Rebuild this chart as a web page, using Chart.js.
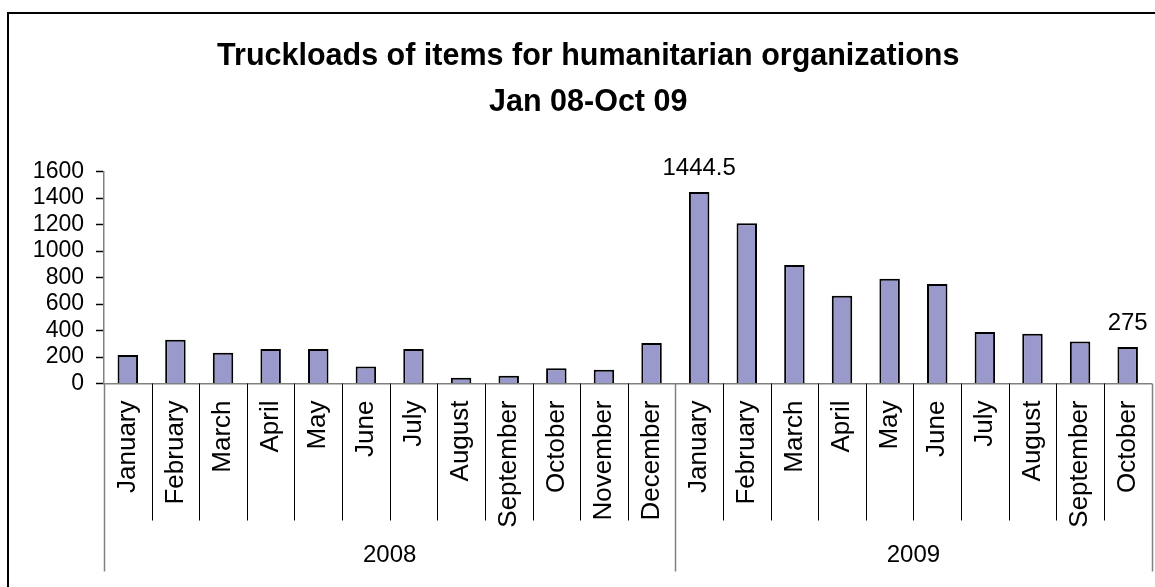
<!DOCTYPE html>
<html>
<head>
<meta charset="utf-8">
<script src="https://cdn.jsdelivr.net/npm/chart.js@4/dist/chart.umd.min.js"></script>
<style>
    body { margin: 0; background: #fff; overflow: hidden; }
    #wrap { position: relative; width: 1155px; height: 587px; }
    #frame { position: absolute; left: 7px; top: 12px; width: 1170px; height: 600px; border: 2px solid #000; pointer-events: none; }
</style>
</head>
<body>
<div id="wrap">
    <canvas id="chartJS"></canvas>
    <div id="frame"></div>
</div>
<script>
// chart data
const months = [
    "January", "February", "March", "April", "May", "June", "July", "August", "September", "October", "November", "December",
    "January", "February", "March", "April", "May", "June", "July", "August", "September", "October"
];
const years = ["2008", "2009"];
const monthsPerYear = [12, 10];
const truckloads = [215, 330, 233, 260, 260, 128, 260, 43, 58, 116, 103, 305,
                    1444.5, 1210, 895, 663, 791, 751, 388, 375, 317, 275];
const labelledBars = [12, 21];
const yTicks = [0, 200, 400, 600, 800, 1000, 1200, 1400, 1600];
const titleLines = ["Truckloads of items for humanitarian organizations", "Jan 08-Oct 09"];

const FONT = "'Liberation Sans', Arial, sans-serif";

// draws the two-level category axis (dividers + years) and the value labels
const extrasPlugin = {
    id: 'extras',
    afterDraw: (chart) => {
        const ctx = chart.ctx;
        const xs = chart.scales.x;
        const y0 = chart.chartArea.bottom;

        // boundaries between years
        let yearEdges = [0];
        monthsPerYear.forEach(n => yearEdges.push(yearEdges[yearEdges.length - 1] + n));

        ctx.save();
        ctx.lineWidth = 1;

        // month dividers
        ctx.strokeStyle = '#000';
        for (let i = 1; i < months.length; i++) {
            if (yearEdges.includes(i)) continue;
            const px = Math.round(xs.getPixelForValue(i - 0.5)) + 0.5;
            ctx.beginPath();
            ctx.moveTo(px, y0);
            ctx.lineTo(px, y0 + 137);
            ctx.stroke();
        }

        // year dividers
        ctx.strokeStyle = '#808080';
        ctx.lineWidth = 1.5;
        yearEdges.forEach(i => {
            const px = Math.round(xs.getPixelForValue(i - 0.5)) + 0.5;
            ctx.beginPath();
            ctx.moveTo(px, y0);
            ctx.lineTo(px, y0 + 188);
            ctx.stroke();
        });

        // year labels
        ctx.fillStyle = '#000';
        ctx.font = `24px ${FONT}`;
        ctx.textAlign = 'center';
        ctx.textBaseline = 'middle';
        years.forEach((yr, k) => {
            const a = xs.getPixelForValue(yearEdges[k] - 0.5);
            const b = xs.getPixelForValue(yearEdges[k + 1] - 0.5);
            ctx.fillText(yr, (a + b) / 2, y0 + 172);
        });

        // value labels
        const meta = chart.getDatasetMeta(0);
        labelledBars.forEach(i => {
            const bar = meta.data[i];
            ctx.fillText(String(truckloads[i]), bar.x, bar.y - 24);
        });
        ctx.restore();
    }
};

const drawChart = () => {
    let ctx = document.getElementById('chartJS').getContext('2d');
    let chart = new Chart(ctx, {
        type: 'bar',
        data: {
            labels: months,
            datasets: [{
                label: 'Truckloads',
                data: truckloads,
                backgroundColor: '#9999cc',
                borderColor: '#000',
                borderWidth: 2,
                borderSkipped: 'bottom',
                categoryPercentage: 1,
                barPercentage: 0.43
            }]
        },
        options: {
            responsive: true,
            maintainAspectRatio: false,
            animation: false,
            layout: {
                padding: { left: 25, right: 3.5, top: 0, bottom: 0 }
            },
            plugins: {
                legend: { display: false },
                tooltip: { enabled: false },
                title: {
                    display: true,
                    text: titleLines,
                    color: '#000',
                    font: { family: FONT, size: 30.5, weight: 'bold', lineHeight: 1.5 },
                    padding: { top: 34, bottom: 46 }
                }
            },
            scales: {
                x: {
                    grid: { display: false },
                    border: { color: '#808080', width: 1.5 },
                    ticks: {
                        color: '#000',
                        font: { family: FONT, size: 26 },
                        minRotation: 90,
                        maxRotation: 90,
                        autoSkip: false,
                        padding: 9
                    },
                    afterFit: (scale) => {
                        scale.height = 203.5;
                        scale.paddingLeft = 0;
                        scale.paddingRight = 0;
                    }
                },
                y: {
                    min: yTicks[0],
                    max: yTicks[yTicks.length - 1],
                    afterBuildTicks: (scale) => {
                        scale.ticks = yTicks.map(v => ({ value: v }));
                    },
                    grid: {
                        drawOnChartArea: false,
                        drawTicks: true,
                        tickLength: 8,
                        tickColor: '#000',
                        tickWidth: 1.5
                    },
                    border: { color: '#808080', width: 1.5 },
                    ticks: {
                        autoSkip: false,
                        color: '#000',
                        font: { family: FONT, size: 23 },
                        padding: 12,
                        callback: (value) => String(value)
                    },
                    afterFit: (scale) => { scale.width = 79; }
                }
            }
        },
        plugins: [extrasPlugin]
    });
};

drawChart();
</script>
</body>
</html>
